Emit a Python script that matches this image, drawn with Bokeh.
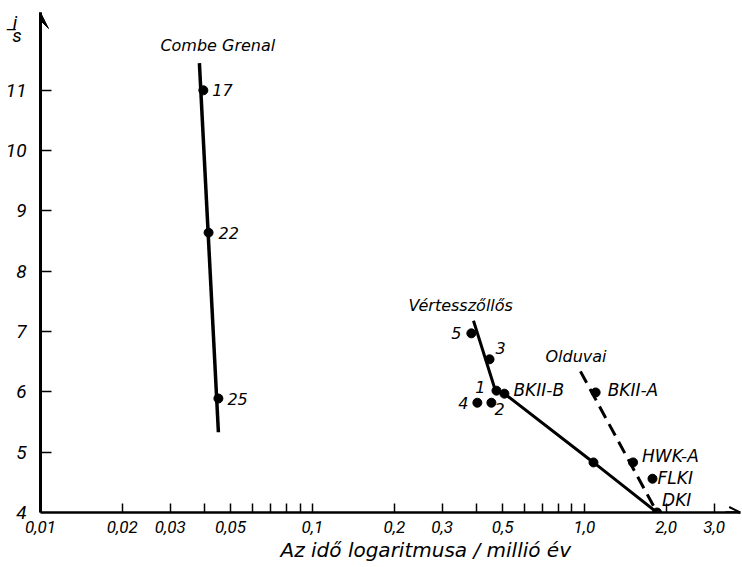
from bokeh.plotting import figure
from bokeh.models import (Range1d, FixedTicker, Arrow, VeeHead, OpenHead,
                          ColumnDataSource, Title)
from bokeh.core.properties import value
from bokeh.embed import file_html
from bokeh.resources import INLINE

TICK_FONT = "Roboto"
FONT = "DejaVu Sans"
NB = "\u00a0"

# ---------------- data ----------------
# Combe Grenal (sample numbers)
cg_x = [0.0397, 0.0415, 0.0451]
cg_y = [11.0, 8.64, 5.89]
cg_labels = ["17", "22", "25"]
cg_line_x = [0.0384, 0.0451]
cg_line_y = [11.45, 5.33]

# Vértesszőllős (layers)
vt_x = [0.384, 0.448, 0.475, 0.404, 0.455]
vt_y = [6.97, 6.54, 6.02, 5.82, 5.82]
vt_labels = ["5", "3", "1", "4", "2"]
vt_line_x = [0.391, 0.47, 0.508, 1.08, 1.85]
vt_line_y = [7.18, 6.03, 5.97, 4.83, 4.0]

# Olduvai sites
ol_x = [0.508, 1.08, 1.10, 1.51, 1.78, 1.85]
ol_y = [5.97, 4.83, 5.99, 4.83, 4.56, 4.0]
ol_labels = ["BKII-B", "", "BKII-A", "HWK-A", "FLKI", "DKI"]
ol_line_x = [0.967, 1.85]
ol_line_y = [6.34, 4.0]

# group names
group_names = ["Combe Grenal", "Vértesszőllős", "Olduvai"]

# axes
x_label_ticks = [0.01, 0.02, 0.03, 0.05, 0.1, 0.2, 0.3, 0.5, 1.0, 2.0, 3.0]
x_tick_labels = ["0,01", "0,02", "0,03", "0,05", "0,1", "0,2", "0,3", "0,5", "1,0", "2,0", "3,0"]
x_minor_ticks = [0.04, 0.06, 0.07, 0.08, 0.09, 0.4, 0.6, 0.7, 0.8, 0.9]
y_ticks = [4, 5, 6, 7, 8, 9, 10, 11]
y_tick_labels = ["4", "5", "6", "7", "8", "9", "10", "11"]
x_title = "Az idő logaritmusa / millió év"
y_title_parts = ["i", "–", "s"]          # the fraction i/s
y_title_pos = [12.12, 12.015, 11.91]      # stacked above the top tick

# ---------------- figure ----------------
p = figure(width=742, height=567, x_axis_type="log",
           x_range=Range1d(0.01, 3.75), y_range=Range1d(4, 12.29),
           output_backend="svg", toolbar_location=None,
           min_border_left=40, min_border_right=2, min_border_top=12,
           min_border_bottom=55)
p.outline_line_color = None
p.xgrid.visible = False
p.ygrid.visible = False
p.background_fill_color = "white"
p.border_fill_color = "white"

# x axis
xa = p.xaxis[0]
xa.ticker = FixedTicker(ticks=x_label_ticks, minor_ticks=x_minor_ticks)
xa.major_label_overrides = dict(zip(x_label_ticks, x_tick_labels))
xa.axis_line_width = 2.5
xa.axis_line_color = "black"
xa.major_tick_in = 9
xa.major_tick_out = 0
xa.minor_tick_in = 9
xa.minor_tick_out = 0
xa.major_tick_line_width = 1.5
xa.minor_tick_line_width = 1.5
xa.major_tick_line_color = "black"
xa.minor_tick_line_color = "black"
xa.major_label_text_font = TICK_FONT
xa.major_label_text_font_style = "italic"
xa.major_label_text_font_size = "17px"
xa.major_label_text_color = "black"
xa.major_label_standoff = 8

# y axis: numbers + the i/s fraction as labels; tick marks drawn as minor ticks
ya = p.yaxis[0]
y_overrides = dict(zip(y_ticks, y_tick_labels))
pads = [NB * 2, NB * 2, NB * 1]
for pos, part, pad in zip(y_title_pos, y_title_parts, pads):
    y_overrides[pos] = part + pad
ya.ticker = FixedTicker(ticks=y_ticks + y_title_pos, minor_ticks=y_ticks[1:])
ya.major_label_overrides = y_overrides
ya.axis_line_width = 3
ya.axis_line_color = "black"
ya.major_tick_in = 0
ya.major_tick_out = 0
ya.minor_tick_in = 11
ya.minor_tick_out = 0
ya.minor_tick_line_width = 1.5
ya.minor_tick_line_color = "black"
ya.major_label_text_font = TICK_FONT
ya.major_label_text_font_style = "italic"
ya.major_label_text_font_size = "19px"
ya.major_label_text_color = "black"
ya.major_label_standoff = 14

# x title below the axis
p.add_layout(Title(text=x_title, align="left", offset=240, standoff=0,
                   text_font=FONT, text_font_style="italic", text_font_size="20px",
                   text_color="black"), "below")

# axis arrows
p.add_layout(Arrow(end=VeeHead(size=16, fill_color="black", line_color="black", line_width=1),
                   x_start=0.01, y_start=11.7, x_end=0.01, y_end=12.29,
                   line_width=3, line_color="black"))
p.add_layout(Arrow(end=OpenHead(size=11, line_width=2, line_color="black"),
                   x_start=3.3, y_start=4, x_end=3.74, y_end=4,
                   line_width=2.5, line_color="black"))

# ---------------- lines ----------------
p.line(cg_line_x, cg_line_y, line_width=3.5, line_color="black")
p.line(vt_line_x, vt_line_y, line_width=3, line_color="black")
p.line(ol_line_x, ol_line_y, line_width=3, line_color="black", line_dash="13 7")

# ---------------- points ----------------
p.scatter(cg_x, cg_y, size=9, color="black")
p.scatter(vt_x, vt_y, size=9, color="black")
p.scatter(ol_x, ol_y, size=9, color="black")

txt = dict(text_font=value(FONT), text_font_style="italic", text_color="black",
           text_baseline="middle")

# point labels (pixel offsets are layout, not data)
cg_src = ColumnDataSource(dict(x=cg_x, y=cg_y, t=cg_labels,
                               dx=[9, 10, 9], dy=[0, 0, 0]))
p.text(x="x", y="y", text="t", x_offset="dx", y_offset="dy", source=cg_src,
       text_font_size="16px", text_align="left", **txt)

vt_src = ColumnDataSource(dict(x=vt_x, y=vt_y, t=vt_labels,
                               dx=[-10, 6, -11, -9, 3], dy=[0, -11, -4, 0, 6],
                               al=["right", "left", "right", "right", "left"]))
p.text(x="x", y="y", text="t", x_offset="dx", y_offset="dy", text_align="al",
       source=vt_src, text_font_size="16px", **txt)

ol_src = ColumnDataSource(dict(x=ol_x, y=ol_y, t=ol_labels,
                               dx=[9, 0, 12, 9, 5, 5], dy=[-4, 0, -2, -6, -1, -13]))
p.text(x="x", y="y", text="t", x_offset="dx", y_offset="dy", source=ol_src,
       text_font_size="17px", text_align="left", **txt)

# group names, placed relative to the top of each line
grp_src = ColumnDataSource(dict(x=[cg_line_x[0], vt_line_x[0], ol_line_x[0]],
                                y=[cg_line_y[0], vt_line_y[0], ol_line_y[0]],
                                t=group_names,
                                dx=[-39, -65, -35], dy=[-18, -15, -15]))
p.text(x="x", y="y", text="t", x_offset="dx", y_offset="dy", source=grp_src,
       text_font_size="16px", text_align="left", **txt)

open("out.html", "w").write(file_html(p, INLINE))
